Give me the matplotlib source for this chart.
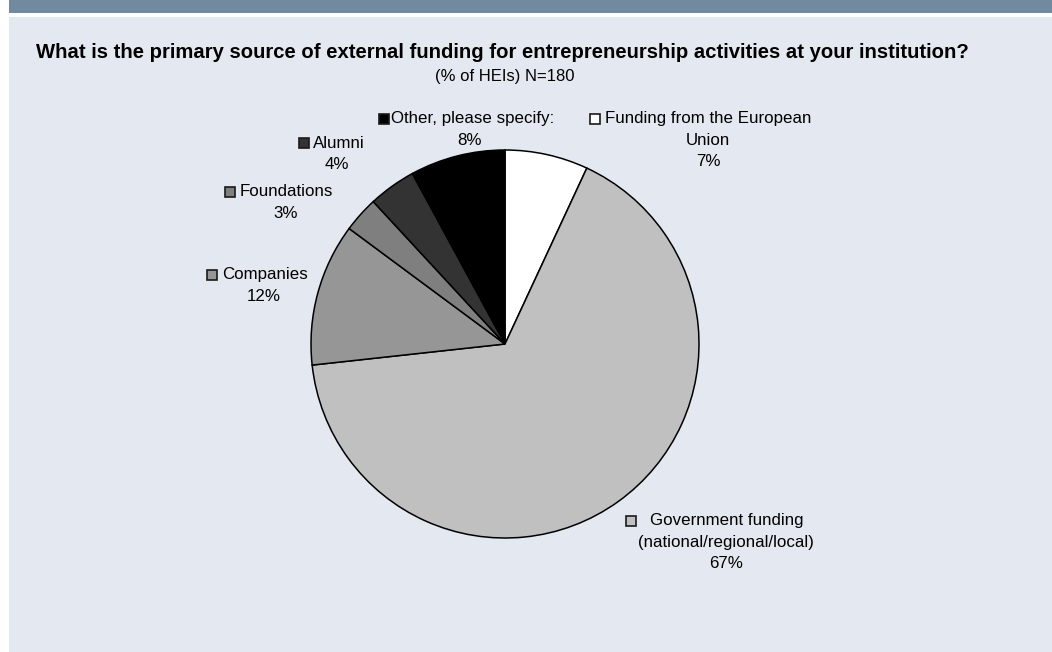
import matplotlib
matplotlib.use("Agg")
import matplotlib.pyplot as plt
from matplotlib.patches import Rectangle

plt.rcParams['font.family'] = ['Liberation Sans', 'DejaVu Sans']

# ---- data ----
categories = ["Funding from the European Union",
              "Government funding (national/regional/local)",
              "Companies", "Foundations", "Alumni",
              "Other, please specify:"]
values = [7, 67, 12, 3, 4, 8]
colors = ["#ffffff", "#c0c0c0", "#969696", "#7f7f7f", "#333333", "#000000"]
label_lines = [["Funding from the European", "Union"],
               ["Government funding", "(national/regional/local)"],
               ["Companies"], ["Foundations"], ["Alumni"],
               ["Other, please specify:"]]
title = "What is the primary source of external funding for entrepreneurship activities at your institution?"
subtitle = "(% of HEIs) N=180"

W, H = 1052, 652
fig = plt.figure(figsize=(W / 100, H / 100), dpi=100)
fig.patch.set_facecolor("white")
ax = fig.add_axes([0, 0, 1, 1])

# background panels
ax.add_patch(Rectangle((9, 0), W - 9, 13, facecolor="#728aa0", edgecolor="none", zorder=0))
ax.add_patch(Rectangle((9, 17), W - 9, H - 17, facecolor="#e4e9f1", edgecolor="none", zorder=0))

# pie (y axis inverted -> counterclock True gives clockwise on screen)
ax.pie(values, colors=colors, startangle=-90, counterclock=True,
       center=(505, 344), radius=194, frame=True,
       wedgeprops=dict(edgecolor="black", linewidth=1.1))
ax.set_xlim(0, W)
ax.set_ylim(H, 0)
ax.axis("off")
ax.set_aspect("equal")

ax.text(502.5, 52, title, ha="center", va="center", fontsize=14.6, fontweight="bold", color="black")
ax.text(505, 76, subtitle, ha="center", va="center", fontsize=12.0, color="black")

# label positions: (marker x, first line y, text left x, centre x for following lines)
label_pos = [(595, 119, 605, 708),
             (631, 521, 650, 726),
             (212, 275, 222, 264),
             (230, 192, 240, 286),
             (303.5, 143, 313, 337),
             (384, 119, 391, 470)]
line_gap = 21.5
fs = 12.2
for i, (mx, y0, tx, cx) in enumerate(label_pos):
    ax.add_patch(Rectangle((mx - 5, y0 - 5), 10, 10, facecolor=colors[i],
                           edgecolor="#1a1a1a", linewidth=1.2, zorder=3))
    lines = label_lines[i]
    ax.text(tx, y0, lines[0], ha="left", va="center", fontsize=fs)
    for j, ln in enumerate(lines[1:], start=1):
        ax.text(cx, y0 + j * line_gap, ln, ha="center", va="center", fontsize=fs)
    ax.text(cx, y0 + len(lines) * line_gap, f"{values[i]}%", ha="center", va="center", fontsize=fs)

fig.savefig("out.png", dpi=100, facecolor="white")
